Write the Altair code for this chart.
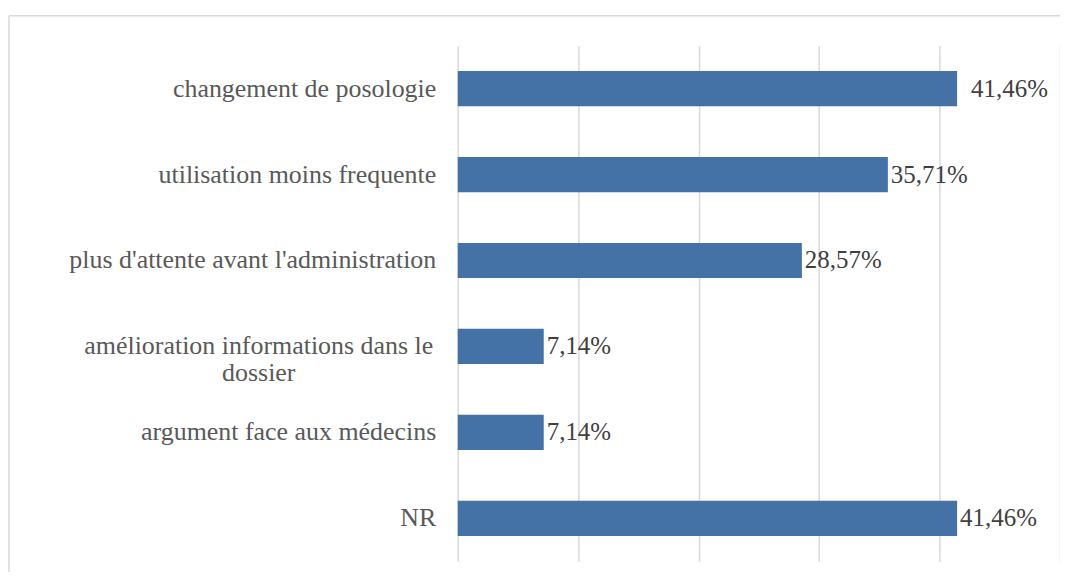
import altair as alt
import pandas as pd

categories = [
    "changement de posologie",
    "utilisation moins frequente",
    "plus d'attente avant l'administration",
    "amélioration informations dans le\ndossier",
    "argument face aux médecins",
    "NR",
]
values = [41.46, 35.71, 28.57, 7.14, 7.14, 41.46]
value_labels = ["41,46%", "35,71%", "28,57%", "7,14%", "7,14%", "41,46%"]
grid_values = [0, 10, 20, 30, 40, 50]

df = pd.DataFrame({"cat": categories, "val": values, "lab": value_labels})

y = alt.Y(
    "cat:N",
    sort=categories,
    scale=alt.Scale(paddingInner=0.59, paddingOuter=0.295),
    axis=alt.Axis(
        title=None,
        domain=False,
        ticks=False,
        labelFont="Liberation Serif",
        labelFontSize=26,
        labelColor="#595959",
        labelLimit=700,
        labelLineHeight=27,
        labelExpr="split(datum.label, '\\n')",
        labelAlign={"condition": {"test": "indexof(datum.value, 'dossier') >= 0", "value": "center"}, "value": "right"},
        labelPadding={"condition": {"test": "indexof(datum.value, 'dossier') >= 0", "value": 200}, "value": 22},
    ),
)
x = alt.X(
    "val:Q",
    scale=alt.Scale(domain=[0, 50], nice=False),
    axis=alt.Axis(
        title=None,
        values=grid_values,
        labels=False,
        ticks=False,
        domain=False,
        grid=True,
        gridColor="#d9d9d9",
        gridWidth=1.5,
    ),
)

base = alt.Chart(df)
bars = base.mark_bar(color="#4472a6").encode(x=x, y=y)
texts = base.mark_text(
    align="left", baseline="middle",
    dx={"expr": "datum.cat == 'changement de posologie' ? 14 : 3"},
    font="Liberation Serif", fontSize=25, color="#404040"
).encode(x=alt.X("val:Q"), y=alt.Y("cat:N", sort=categories), text="lab:N")

frame = alt.Chart(pd.DataFrame({"k": [0]})).mark_rule(color="#d9d9d9", strokeWidth=1.5, clip=False)
top = frame.encode(x=alt.value(-450), x2=alt.value(620), y=alt.value(-30))
left = frame.encode(x=alt.value(-450), y=alt.value(-30), y2=alt.value(560))

chart = alt.layer(top, left, bars, texts).properties(
    width=604,
    height=517,
    autosize=alt.AutoSizeParams(type="none"),
    padding={"left": 451, "top": 37, "right": 0, "bottom": 10},
).configure_view(stroke=None)

chart.save("out.html", embed_options={"renderer": "svg", "actions": False})
